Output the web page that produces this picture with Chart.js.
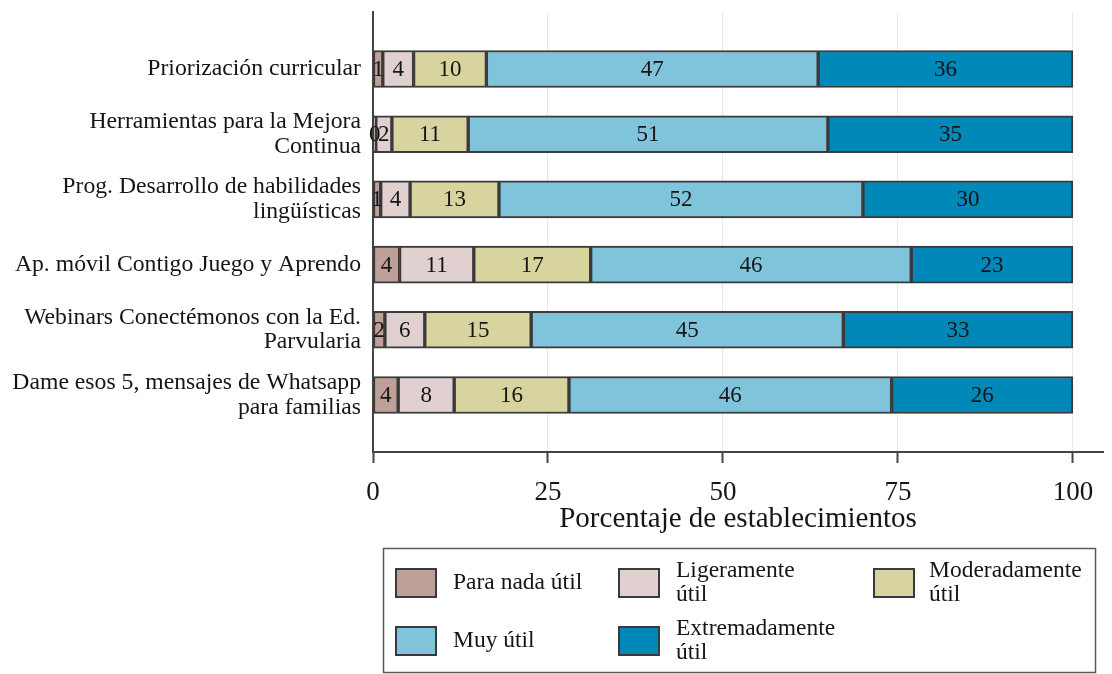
<!DOCTYPE html>
<html>
<head>
<meta charset="utf-8">
<script src="https://cdn.jsdelivr.net/npm/chart.js@4.4.1/dist/chart.umd.min.js"></script>
<style>
  html, body { margin: 0; padding: 0; background: #ffffff; }
  #wrap { width: 1112px; height: 674px; position: relative; }
</style>
</head>
<body>
<div id="wrap"><canvas id="c"></canvas></div>
<script>
// ---- Data ----
const categories = [
  ["Priorización curricular"],
  ["Herramientas para la Mejora", "Continua"],
  ["Prog. Desarrollo de habilidades", "lingüísticas"],
  ["Ap. móvil Contigo Juego y Aprendo"],
  ["Webinars Conectémonos con la Ed.", "Parvularia"],
  ["Dame esos 5, mensajes de Whatsapp", "para familias"]
];
const seriesNames = ["Para nada útil", "Ligeramente útil", "Moderadamente útil", "Muy útil", "Extremadamente útil"];
const legendLines = [["Para nada útil"], ["Ligeramente", "útil"], ["Moderadamente", "útil"], ["Muy útil"], ["Extremadamente", "útil"]];
const paraNada       = [1.4, 0.4, 1.1, 3.8, 1.7, 3.6];
const ligeramente    = [4.4, 2.3, 4.2, 10.6, 5.7, 8.0];
const moderadamente  = [10.4, 10.9, 12.7, 16.7, 15.2, 16.4];
const muyUtil        = [47.4, 51.4, 52.0, 45.8, 44.6, 46.1];
const extremadamente = [36.4, 35.0, 30.0, 23.1, 32.8, 25.9];
const xTickValues = [0, 25, 50, 75, 100];
const xTitle = "Porcentaje de establecimientos";

// ---- Styles ----
const colors = ["#bea098", "#e0d0d0", "#d8d4a0", "#80c4dc", "#0088b8"];
const SERIF = "'Liberation Serif', 'Times New Roman', serif";
const seriesValues = [paraNada, ligeramente, moderadamente, muyUtil, extremadamente];

const datasets = seriesValues.map((vals, k) => ({
  label: seriesNames[k],
  data: vals.map((v, i) => ({ x: v, y: i })),
  backgroundColor: colors[k],
  borderColor: "#3a3a3a",
  borderWidth: 2,
  borderSkipped: false,
  barThickness: 37
}));

const barLabels = {
  id: "barLabels",
  afterDatasetsDraw(chart) {
    const ctx = chart.ctx;
    ctx.save();
    ctx.font = "23px " + SERIF;
    ctx.fillStyle = "#151515";
    ctx.textAlign = "center";
    ctx.textBaseline = "middle";
    chart.data.datasets.forEach((ds, di) => {
      const meta = chart.getDatasetMeta(di);
      meta.data.forEach((el, i) => {
        const p = el.getCenterPoint();
        ctx.fillText(String(Math.round(ds.data[i].x)), p.x, p.y + 1);
      });
    });
    ctx.restore();
  }
};

const customLegend = {
  id: "customLegend",
  afterDraw(chart) {
    const ctx = chart.ctx;
    ctx.save();
    ctx.strokeStyle = "#5a5a5a";
    ctx.lineWidth = 1.5;
    ctx.strokeRect(383.5, 548.5, 712, 124);
    const swX = [396, 619, 874];
    const txX = [453, 676, 929];
    const rowY = [583, 641];
    ctx.font = "23.5px " + SERIF;
    ctx.textAlign = "left";
    ctx.textBaseline = "middle";
    legendLines.forEach((lines, k) => {
      const col = k % 3, row = Math.floor(k / 3);
      const cy = rowY[row];
      ctx.fillStyle = colors[k];
      ctx.fillRect(swX[col], cy - 14, 40, 28);
      ctx.strokeStyle = "#3a3a3a";
      ctx.lineWidth = 2;
      ctx.strokeRect(swX[col], cy - 14, 40, 28);
      ctx.fillStyle = "#151515";
      if (lines.length === 1) {
        ctx.fillText(lines[0], txX[col], cy);
      } else {
        ctx.fillText(lines[0], txX[col], cy - 12);
        ctx.fillText(lines[1], txX[col], cy + 12);
      }
    });
    ctx.restore();
  }
};

new Chart(document.getElementById("c"), {
  type: "bar",
  data: { datasets },
  plugins: [barLabels, customLegend],
  options: {
    indexAxis: "y",
    responsive: true,
    maintainAspectRatio: false,
    animation: false,
    layout: { padding: { left: 0, top: 12, right: 9, bottom: 137 } },
    plugins: { legend: { display: false }, tooltip: { enabled: false } },
    scales: {
      x: {
        type: "linear",
        stacked: true,
        offset: false,
        min: 0,
        max: 104.3,
        afterBuildTicks(scale) { scale.ticks = xTickValues.map(v => ({ value: v })); },
        afterFit(scale) { scale.height = 85; scale.paddingLeft = 0; scale.paddingRight = 0; },
        grid: {
          display: true,
          offset: false,
          color: (c) => (c.tick && c.tick.value === 0) ? "rgba(0,0,0,0)" : "#e2ecf0",
          lineWidth: 1,
          drawTicks: true,
          tickLength: 11,
          tickColor: "#444444",
          tickWidth: 2
        },
        border: { display: true, color: "#444444", width: 2 },
        ticks: {
          padding: 14,
          color: "#151515",
          font: { family: SERIF, size: 27 },
          maxRotation: 0,
          autoSkip: false
        },
        title: {
          display: true,
          text: xTitle,
          color: "#151515",
          font: { family: SERIF, size: 29 },
          padding: { top: 0, bottom: 0 }
        }
      },
      y: {
        type: "linear",
        stacked: true,
        offset: false,
        reverse: true,
        min: -0.875,
        max: 5.875,
        afterBuildTicks(scale) { scale.ticks = categories.map((_, i) => ({ value: i })); },
        afterFit(scale) { scale.width = 373; scale.paddingTop = 0; scale.paddingBottom = 0; },
        grid: { display: false, drawTicks: false, offset: false },
        border: { display: true, color: "#444444", width: 2 },
        ticks: {
          autoSkip: false,
          padding: 12,
          color: "#151515",
          font: { family: SERIF, size: 23.7, lineHeight: 1.05 },
          callback: (v) => categories[v] || ""
        }
      }
    }
  }
});
</script>
</body>
</html>
